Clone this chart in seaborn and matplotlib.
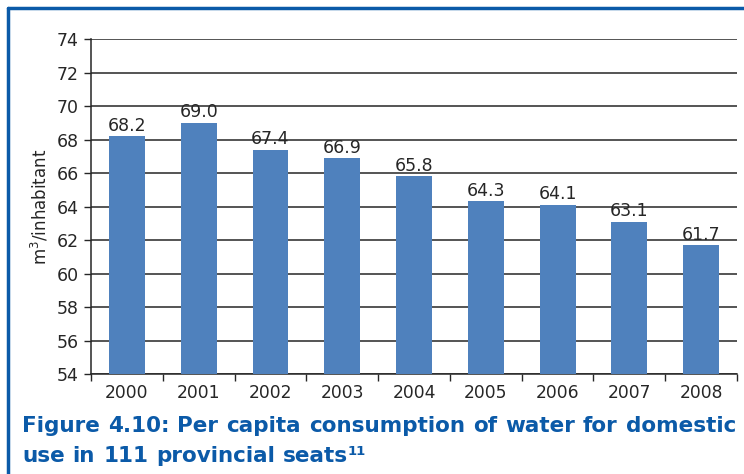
import matplotlib
matplotlib.use("Agg")
import matplotlib.pyplot as plt
from matplotlib.lines import Line2D
import seaborn as sns
import pandas as pd

years = ["2000", "2001", "2002", "2003", "2004", "2005", "2006", "2007", "2008"]
consumption = [68.2, 69.0, 67.4, 66.9, 65.8, 64.3, 64.1, 63.1, 61.7]
y_ticks = [54, 56, 58, 60, 62, 64, 66, 68, 70, 72, 74]
caption_line1 = "Figure 4.10: Per capita consumption of water for domestic"
caption_line2 = "use in 111 provincial seats"
caption_note = "11"

sns.set_theme(style="white")
plt.rcParams["font.family"] = ["DejaVu Sans"]

W, H = 744, 474
df = pd.DataFrame({"year": years, "value": consumption})

fig = plt.figure(figsize=(W / 100, H / 100), dpi=100)
ax = fig.add_axes([91 / W, 1 - 374 / H, (737 - 91) / W, (374 - 39) / H])

sns.barplot(data=df, x="year", y="value", color="#4F81BD", saturation=1,
            width=0.5, linewidth=0, ax=ax, zorder=3)

ax.set_ylim(54, 74)
ax.set_yticks(y_ticks)
ax.set_xlim(-0.5, len(years) - 0.5)
ax.yaxis.grid(True, color="#262626", linewidth=1.1, zorder=0)
ax.set_axisbelow(True)

for side in ["top", "right"]:
    ax.spines[side].set_visible(False)
for side in ["left", "bottom"]:
    ax.spines[side].set_color("#262626")
    ax.spines[side].set_linewidth(1.1)

text_color = "#262626"
ax.tick_params(axis="y", which="major", direction="out", length=5, width=1,
               color="#262626", labelsize=12.5, labelcolor=text_color, pad=4, left=True)
ax.tick_params(axis="x", which="major", length=0, labelsize=12.3,
               labelcolor=text_color, pad=7)
ax.set_xticks([i - 0.5 for i in range(len(years) + 1)], minor=True)
ax.tick_params(axis="x", which="minor", direction="out", length=5, width=1,
               color="#262626", bottom=True)

ax.set_xlabel("")
ax.set_ylabel("m$^3$/inhabitant", fontsize=12, color=text_color, labelpad=4)

for cont in ax.containers:
    ax.bar_label(cont, fmt="%.1f", fontsize=12.5, color=text_color, padding=1)

# blue frame along the top and left edges
frame_color = "#0B5AA8"
fig.add_artist(Line2D([8 / W, 1.0], [1 - 8 / H, 1 - 8 / H],
                      transform=fig.transFigure, color=frame_color, linewidth=2.5))
fig.add_artist(Line2D([8 / W, 8 / W], [0.0, 1 - 8 / H],
                      transform=fig.transFigure, color=frame_color, linewidth=2.5))

# caption: first line justified across the width, second line uses the same word gap
cap_kw = dict(fontsize=15.5, fontweight="bold", color=frame_color)
renderer = fig.canvas.get_renderer()
x_left, x_right = 22 / W, 736 / W


def place_words(words, y):
    texts, widths = [], []
    for w in words:
        t = fig.text(0, y, w, va="baseline", ha="left", **cap_kw)
        texts.append(t)
        widths.append(t.get_window_extent(renderer=renderer).width / W)
    return texts, widths


words1 = caption_line1.split(" ")
texts1, widths1 = place_words(words1, 1 - 432 / H)
gap = (x_right - x_left - sum(widths1)) / (len(words1) - 1)
x = x_left
for t, w in zip(texts1, widths1):
    t.set_x(x)
    x += w + gap

y2 = 1 - 462 / H
texts2, widths2 = place_words(caption_line2.split(" "), y2)
x = x_left
for t, w in zip(texts2, widths2):
    t.set_x(x)
    x += w + gap
end = x - gap
fig.text(end - 1.0 / W, y2 + 7 / H, caption_note, va="baseline", ha="left",
         fontsize=9.5, fontweight="bold", color=frame_color)

fig.savefig("out.png", dpi=100)
